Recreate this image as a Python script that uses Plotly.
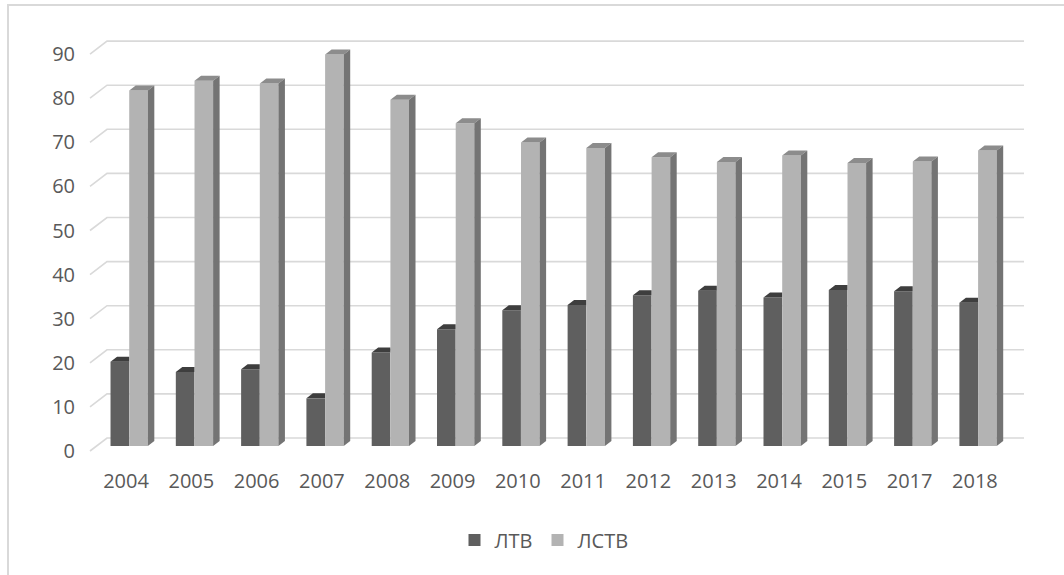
import plotly.graph_objects as go

# --- data -------------------------------------------------------------
years = ["2004", "2005", "2006", "2007", "2008", "2009", "2010",
         "2011", "2012", "2013", "2014", "2015", "2017", "2018"]
ltv = [19.1, 16.8, 17.4, 10.8, 21.2, 26.5, 30.8, 32.0, 34.2, 35.2, 33.7, 35.4, 35.1, 32.5]
lstv = [80.6, 82.8, 82.2, 88.8, 78.5, 73.2, 68.8, 67.6, 65.5, 64.4, 65.9, 64.2, 64.5, 67.0]
y_ticks = list(range(0, 100, 10))
series_names = ["ЛТВ", "ЛСТВ"]

# --- geometry of the pseudo-3D projection ------------------------------
W, H = 1064, 575
L, R, T, B = 76, 1040, 30, 460
X_RANGE = [-0.766, 13.997]
Y_RANGE = [-2.041, 95.465]
ux = (R - L) / (X_RANGE[1] - X_RANGE[0])   # pixels per category
uy = (B - T) / (Y_RANGE[1] - Y_RANGE[0])   # pixels per value unit


def px_x(p):
    return p / ux


def px_y(p):
    return p / uy


def x_at(pixel):
    return X_RANGE[0] + (pixel - L) / ux


FLOOR_DX, FLOOR_DY = px_x(17), px_y(13)      # depth of the floor / back wall
GRID_X0 = x_at(90)                           # front-left corner of floor
GRID_X2 = x_at(1024)                         # right end of back wall

BAR_W = px_x(18.6)
BAR_OFF = [px_x(-6.2), px_x(12.5)]
BASE = px_y(5)                               # bar front face sits inside the floor
SIDE_DX, SIDE_DY = px_x(6.5), px_y(5)

FRONT = ["#5f5f5f", "#b3b3b3"]
TOP = ["#3e3e3e", "#8c8c8c"]
SIDE = "#747474"
TEXT = "#595959"
GRID = "#d9d9d9"
FONT = "Open Sans"

fig = go.Figure()

# front faces of the columns
for k, (name, vals) in enumerate(zip(series_names, [ltv, lstv])):
    fig.add_trace(go.Bar(
        x=[i + BAR_OFF[k] for i in range(len(years))],
        y=vals,
        base=BASE,
        width=BAR_W,
        name=name,
        marker=dict(color=FRONT[k], line=dict(width=0)),
        hoverinfo="skip",
    ))

# top and side faces
def poly_trace(xs, ys, color):
    return go.Scatter(x=xs, y=ys, mode="lines", fill="toself", fillcolor=color,
                      line=dict(width=0, color=color), showlegend=False,
                      hoverinfo="skip")


for k, vals in enumerate([ltv, lstv]):
    tx, ty, sx, sy = [], [], [], []
    for i, v in enumerate(vals):
        xl = i + BAR_OFF[k] - BAR_W / 2
        xr = i + BAR_OFF[k] + BAR_W / 2
        top = BASE + v
        if k == 0:
            # the neighbouring column hides everything right of xr
            tx += [xl, xr, xr, xl + SIDE_DX, xl, None]
            ty += [top, top, top + SIDE_DY, top + SIDE_DY, top, None]
        else:
            tx += [xl, xr, xr + SIDE_DX, xl + SIDE_DX, xl, None]
            ty += [top, top, top + SIDE_DY, top + SIDE_DY, top, None]
            sx += [xr, xr, xr + SIDE_DX, xr + SIDE_DX, xr, None]
            sy += [BASE, top, top + SIDE_DY, BASE + SIDE_DY, BASE, None]
    fig.add_trace(poly_trace(tx, ty, TOP[k]))
    if sx:
        fig.add_trace(poly_trace(sx, sy, SIDE))

# back-wall gridlines with the floor diagonal
shapes = []
for v in y_ticks:
    path = (f"M {GRID_X0},{v} L {GRID_X0 + FLOOR_DX},{v + FLOOR_DY} "
            f"L {GRID_X2},{v + FLOOR_DY}")
    shapes.append(dict(type="path", path=path, xref="x", yref="y",
                       line=dict(color=GRID, width=1.6), layer="below"))

# chart frame
shapes.append(dict(type="rect", xref="paper", yref="paper",
                   x0=(8 - L) / (R - L), x1=(1070 - L) / (R - L),
                   y0=(B - 590) / (B - T), y1=(B - 5) / (B - T),
                   line=dict(color=GRID, width=2), fillcolor="rgba(0,0,0,0)",
                   layer="below"))

fig.update_layout(
    width=W, height=H,
    margin=dict(l=L, r=W - R, t=T, b=H - B),
    paper_bgcolor="white", plot_bgcolor="white",
    barmode="overlay",
    showlegend=True,
    legend=dict(orientation="h", x=(544 - L) / (R - L), xanchor="center",
                y=(B - 540) / (B - T), yanchor="middle",
                font=dict(family=FONT, size=20, color=TEXT),
                itemwidth=30, traceorder="normal"),
    shapes=shapes,
    font=dict(family=FONT, color=TEXT),
)

fig.update_xaxes(range=X_RANGE, tickmode="array",
                 tickvals=list(range(len(years))), ticktext=years,
                 showgrid=False, zeroline=False, showline=False, ticks="",
                 tickfont=dict(family=FONT, size=20, color=TEXT),
                 ticklabelstandoff=7, fixedrange=True)
fig.update_yaxes(range=Y_RANGE, tickmode="array", tickvals=y_ticks,
                 showgrid=False, zeroline=False, showline=False, ticks="",
                 tickfont=dict(family=FONT, size=20, color=TEXT),
                 fixedrange=True)

fig.write_html("out.html")
